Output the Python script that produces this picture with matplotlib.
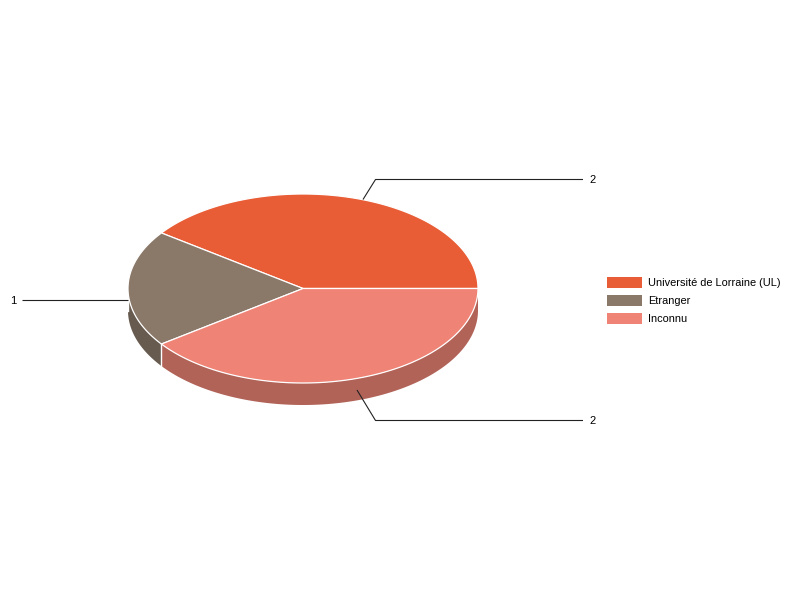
import numpy as np
import matplotlib
matplotlib.use('Agg')
import matplotlib.pyplot as plt
from matplotlib.patches import Polygon, Rectangle

categories = ['Université de Lorraine (UL)', 'Etranger', 'Inconnu']
values = [2, 1, 2]
top_colors = ['#E95D36', '#8A7869', '#EF8376']
side_colors = ['#A5421F', '#675A4F', '#B26358']

# pie geometry, in pixels
cx, cy = 303, 288.5
rx, ry = 175, 94.5
depth = 22

# leader lines, one per slice
leaders = [
    [(363, 199.5), (375.5, 179.5), (583, 179.5)],
    [(128, 299.5), (22, 299.5)],
    [(357, 390), (375.5, 420.5), (583, 420.5)],
]
label_pos = [(589, 180), (10, 300.5), (589, 421)]

plt.rcParams['font.family'] = ['Liberation Sans', 'DejaVu Sans']

fig = plt.figure(figsize=(8, 6), dpi=100)
ax = fig.add_axes([0, 0, 1, 1])
ax.set_xlim(0, 800)
ax.set_ylim(600, 0)
ax.axis('off')


def rim(a0, a1, dy=0):
    t = np.radians(np.linspace(a0, a1, 200))
    return np.column_stack([cx + rx * np.cos(t), cy - ry * np.sin(t) + dy])


# slice angles, counter-clockwise from the right
shares = np.array(values) / sum(values) * 360
ends = np.cumsum(shares)
starts = ends - shares

# side walls, only the front half shows
for a0, a1, c in zip(starts, ends, side_colors):
    lo, hi = max(a0, 180), min(a1, 360)
    if lo >= hi:
        continue
    pts = np.vstack([rim(lo, hi), rim(lo, hi, depth)[::-1]])
    ax.add_patch(Polygon(pts, closed=True, fc=c, ec='none', zorder=2))
    # white seam where the wall starts
    ax.plot([pts[0, 0], pts[0, 0]], [pts[0, 1], pts[0, 1] + depth], color='white', lw=1, zorder=3)

# top faces
for a0, a1, c in zip(starts, ends, top_colors):
    pts = np.vstack([[cx, cy], rim(a0, a1)])
    ax.add_patch(Polygon(pts, closed=True, fc=c, ec='white', lw=0.9, joinstyle='round', zorder=4))

# value labels and their leader lines
for line, pos, v in zip(leaders, label_pos, values):
    xs, ys = zip(*line)
    ax.plot(xs, ys, color='#222222', lw=0.8, zorder=5, solid_capstyle='butt')
    ax.text(pos[0], pos[1], str(v), fontsize=8, color='black', ha='left', va='center')

# legend
for i, (name, c) in enumerate(zip(categories, top_colors)):
    y = 276.5 + 18 * i
    ax.add_patch(Rectangle((607, y), 35, 11, fc=c, ec='none'))
    ax.text(648, y + 6.3, name, fontsize=7.9, color='black', ha='left', va='center')

fig.savefig('out.png', dpi=100)
